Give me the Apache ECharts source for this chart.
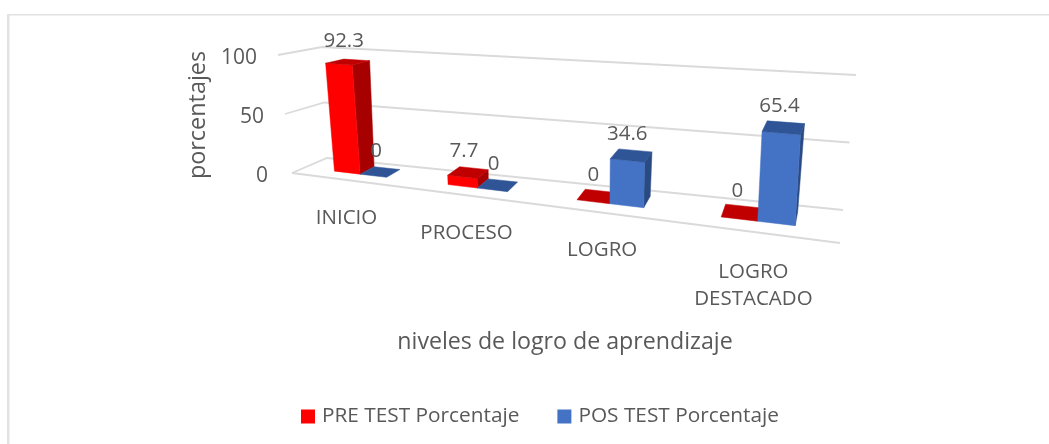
<!DOCTYPE html>
<html><head><meta charset="utf-8">
<style>html,body{margin:0;padding:0;background:#fff}#c{width:1049px;height:444px}</style>
<script src="https://cdn.jsdelivr.net/npm/echarts@6/dist/echarts.min.js"></script></head>
<body><div id="c"></div>
<script>
const categories = ['INICIO', 'PROCESO', 'LOGRO', 'LOGRO\nDESTACADO'];
const preTest = [92.3, 7.7, 0, 0];
const posTest = [0, 0, 34.6, 65.4];
const yTicks = [0, 50, 100];
const preName = 'PRE TEST Porcentaje';
const posName = 'POS TEST Porcentaje';

const FONT = '"Open Sans", sans-serif';
const TEXT = '#595959';
const GRID = {left: 290, top: 55, width: 550, height: 120};
// perspective box: corners of the floor and ceiling, front and back
const C = {
  fl0: [292, 173], fr0: [840, 243], bl0: [327, 158], br0: [843, 210],
  fl1: [278, 55],  fr1: [848, 98],  bl1: [322, 47],  br1: [856, 75]
};
const mix = (a, b, t) => [a[0] + (b[0] - a[0]) * t, a[1] + (b[1] - a[1]) * t];
const ease = u => 0.008 + 0.762 * u + 0.228 * u * u;
function boxPoint(w, v, d) {
  const f = mix(mix(C.fl0, C.fr0, w), mix(C.fl1, C.fr1, w), v);
  const b = mix(mix(C.bl0, C.br0, w), mix(C.bl1, C.br1, w), v);
  return mix(f, b, d);
}
const project = (u, v, d) => boxPoint(ease(u), v, d);
// axis pixels -> unit box coordinates
function unit(api, cat, val) {
  const c = api.coord([cat, val]);
  return [(c[0] - GRID.left) / GRID.width, (GRID.top + GRID.height - c[1]) / GRID.height];
}
const poly = (pts, fill, z) => ({type: 'polygon', z2: z, shape: {points: pts}, style: {fill: fill, stroke: fill, lineWidth: 0.5}});
const label = (x, y, t, size, align, vAlign, lh) => ({type: 'text', z2: 20, style: {
  x: x, y: y, text: t, fill: TEXT, fontSize: size, fontFamily: FONT,
  align: align, verticalAlign: vAlign, lineHeight: lh}});

const D0 = 0.36, D1 = 0.8, BAR = 0.0595, SHIFT = -0.004;
function barRender(sign, front, side, top) {
  return function (params, api) {
    const cat = api.value(0), val = api.value(1);
    const q = unit(api, cat, val);
    const c = q[0] + SHIFT;
    const u0 = sign < 0 ? c - BAR : c, u1 = u0 + BAR, v = q[1];
    const children = [];
    const P = project;
    if (val > 0) {
      children.push(poly([P(u1, 0, D0), P(u1, 0, D1), P(u1, v, D1), P(u1, v, D0)], side, 1));
      children.push(poly([P(u0, 0, D0), P(u1, 0, D0), P(u1, v, D0), P(u0, v, D0)], front, 2));
    }
    children.push(poly([P(u0, v, D0), P(u1, v, D0), P(u1, v, D1), P(u0, v, D1)], top, 3));
    const m = P((u0 + u1) / 2, v, (D0 + D1) / 2);
    children.push(label(m[0] - 4, m[1] - 21, String(val), 20.5, 'center', 'middle'));
    return {type: 'group', children: children};
  };
}
function gridRender(params, api) {
  const val = api.value(0);
  const q = unit(api, 0, val);
  const pts = [boxPoint(0, q[1], 0), boxPoint(0, q[1], 1), boxPoint(1, q[1], 1)];
  const kids = [{type: 'polyline', shape: {points: pts}, style: {fill: null, stroke: '#DADADA', lineWidth: 1.8}}];
  if (val === 0) {
    const s = boxPoint(0, 0, 0), e = boxPoint(1, 0, 0);
    kids.push({type: 'line', shape: {x1: s[0], y1: s[1], x2: e[0], y2: e[1]}, style: {stroke: '#DADADA', lineWidth: 1.8}});
  }
  const a = boxPoint(0, q[1], 0);
  const off = val === 0 ? 24 : 21;
  kids.push(label(a[0] - off, a[1] + 3.5, String(val), 21, 'right', 'middle'));
  return {type: 'group', children: kids};
}
function catRender(params, api) {
  const idx = api.value(0);
  const q = unit(api, idx, 0);
  const p = project(q[0], 0, 0);
  return label(p[0] - 4, p[1] + (idx === 3 ? 26 : 24), categories[idx], 20.5, 'center', 'top', 27);
}

const chart = echarts.init(document.getElementById('c'), null, {renderer: 'canvas'});
chart.setOption({
  animation: false,
  backgroundColor: '#fff',
  grid: Object.assign({containLabel: false}, GRID),
  graphic: [
    {type: 'rect', z: -1, shape: {x: 7, y: 14, width: 2.5, height: 430}, style: {fill: '#E2E2E2'}},
    {type: 'rect', z: -1, shape: {x: 7, y: 14, width: 1042, height: 1.6}, style: {fill: '#E2E2E2'}}
  ],
  legend: {
    left: 301, top: 406, padding: 0, itemWidth: 14, itemHeight: 14, itemGap: 38, data: [preName, posName],
    icon: 'rect', textStyle: {fontFamily: FONT, fontSize: 20.8, color: TEXT, padding: [0, 0, 0, 2]}
  },
  xAxis: {
    type: 'category', data: categories, boundaryGap: true,
    axisLine: {show: false}, axisTick: {show: false}, axisLabel: {show: false}, splitLine: {show: false},
    name: 'niveles de logro de aprendizaje', nameLocation: 'middle', nameGap: 156,
    nameTextStyle: {fontFamily: FONT, fontSize: 23.2, color: TEXT}
  },
  yAxis: {
    type: 'value', min: 0, max: 100, interval: 50,
    axisLine: {show: false}, axisTick: {show: false}, axisLabel: {show: false}, splitLine: {show: false},
    name: 'porcentajes', nameLocation: 'middle', nameGap: 80, nameRotate: 90,
    nameTextStyle: {fontFamily: FONT, fontSize: 23.4, color: TEXT}
  },
  series: [
    {type: 'custom', name: 'grid', z: 1, silent: true, coordinateSystem: 'cartesian2d', encode: {x: -1, y: 0},
     data: yTicks.map(t => [t]), renderItem: gridRender, clip: false},
    {type: 'custom', name: 'cats', z: 1, silent: true, data: categories.map((c, i) => [i]), renderItem: catRender, encode: {x: 0}, clip: false},
    {type: 'custom', name: preName, z: 2, itemStyle: {color: '#FF0000'}, encode: {x: 0, y: 1},
     data: preTest.map((v, i) => [i, v]), renderItem: barRender(-1, '#FF0000', '#A60000', '#C00000'), clip: false},
    {type: 'custom', name: posName, z: 3, itemStyle: {color: '#4472C4'}, encode: {x: 0, y: 1},
     data: posTest.map((v, i) => [i, v]), renderItem: barRender(1, '#4472C4', '#2A4A82', '#2F5597'), clip: false}
  ]
});
</script></body></html>
